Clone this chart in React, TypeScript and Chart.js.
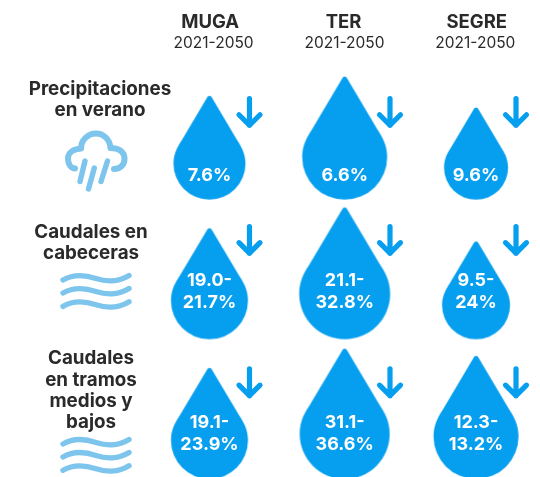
import React, { useEffect, useRef } from "react";
import { Chart, registerables } from "chart.js";

Chart.register(...registerables);

// ---------- data ----------
const rivers = ["MUGA", "TER", "SEGRE"];
const periods = ["2021-2050", "2021-2050", "2021-2050"];
const rows = ["Precipitaciones en verano", "Caudales en cabeceras", "Caudales en tramos medios y bajos"];
const rowLines = [
  ["Precipitaciones", "en verano"],
  ["Caudales en", "cabeceras"],
  ["Caudales", "en tramos", "medios y", "bajos"],
];
const mugaSizes = [36, 38.5, 38.5];
const terSizes = [42.5, 45.5, 45];
const segreSizes = [32, 34, 42.5];
const mugaLabels = [["7.6%"], ["19.0-", "21.7%"], ["19.1-", "23.9%"]];
const terLabels = [["6.6%"], ["21.1-", "32.8%"], ["31.1-", "36.6%"]];
const segreLabels = [["9.6%"], ["9.5-", "24%"], ["12.3-", "13.2%"]];

// ---------- styling / layout ----------
const DROP = "#069EEE";
const LIGHT = "#7DC5EC";
const INK = "#2A2A2A";
const FAMILY = "Inter, 'Liberation Sans', sans-serif";
const BAND_HALF = 419 / 6;
const COLUMN_NUDGE = [-0.75, 1.2, -0.75];
const ARROW_DX = [40, 45.3, 40];
const ARROW_DY = [-17.8, -29.5, -26.7];
const VALUE_DY = [[45.7], [11.5, 32.8], [13.5, 35.1]];
const ROW_TEXT_X = [100, 91, 91];
const ROW_TEXT_DY = [
  [-40.8, -19.1],
  [-36.8, -16.2],
  [-51.2, -29.2, -7.5, 12.8],
];
const WAVE_DY = [0, 21.5, 45.8];
const PERIOD_AXIS_SPAN = { left: 148.2, right: 540.8 };

function makeDrop(r: number, nudge: number) {
  const c = document.createElement("canvas");
  c.width = 2 * Math.ceil(r) + 12;
  c.height = 400;
  const g = c.getContext("2d")!;
  const cx = c.width / 2 + nudge;
  const b = c.height / 2 + BAND_HALF;
  g.fillStyle = DROP;
  g.beginPath();
  g.moveTo(cx - 0.772 * r, b - 1.65 * r);
  g.arcTo(cx, b - 2.95 * r, cx + 0.772 * r, b - 1.65 * r, 2.5);
  g.lineTo(cx + 0.772 * r, b - 1.65 * r);
  g.bezierCurveTo(cx + 0.87 * r, b - 1.5 * r, cx + r, b - 1.3 * r, cx + r, b - r);
  g.arc(cx, b - r, r, 0, Math.PI);
  g.bezierCurveTo(cx - r, b - 1.3 * r, cx - 0.87 * r, b - 1.5 * r, cx - 0.772 * r, b - 1.65 * r);
  g.closePath();
  g.fill();
  return c;
}

function drawArrow(g: CanvasRenderingContext2D, x: number, y: number) {
  g.save();
  g.strokeStyle = DROP;
  g.lineWidth = 5.2;
  g.lineCap = "round";
  g.lineJoin = "round";
  g.beginPath();
  g.moveTo(x, y - 13.5);
  g.lineTo(x, y + 13.2);
  g.moveTo(x - 10.5, y + 2.7);
  g.lineTo(x, y + 13.2);
  g.lineTo(x + 10.5, y + 2.7);
  g.stroke();
  g.restore();
}

function drawCloud(g: CanvasRenderingContext2D, dy: number) {
  g.save();
  g.translate(0, dy);
  g.strokeStyle = LIGHT;
  g.lineCap = "round";
  g.lineJoin = "round";
  g.lineWidth = 6;
  g.beginPath();
  g.moveTo(75, 168.5);
  g.bezierCurveTo(70, 168, 68, 163, 68, 158.5);
  g.bezierCurveTo(68, 153, 73, 149, 81, 148.5);
  g.bezierCurveTo(81, 140, 88, 133.5, 96, 133.5);
  g.bezierCurveTo(104, 133.5, 110, 140, 110.5, 148);
  g.bezierCurveTo(118, 148, 124.5, 151, 124.5, 159);
  g.bezierCurveTo(124.5, 165, 120, 169, 114, 169);
  g.stroke();
  g.lineWidth = 5.4;
  g.beginPath();
  g.moveTo(85, 161);
  g.lineTo(80, 181.5);
  g.moveTo(94.3, 168);
  g.lineTo(88.5, 189);
  g.moveTo(107.5, 161);
  g.lineTo(101, 181.5);
  g.stroke();
  g.restore();
}

function drawWaves(g: CanvasRenderingContext2D, yMid: number) {
  g.save();
  g.strokeStyle = LIGHT;
  g.lineCap = "round";
  g.lineWidth = 5.4;
  const x0 = 63;
  [-13, 0, 13.3].forEach((off) => {
    const y = yMid + off;
    g.beginPath();
    g.moveTo(x0, y + 2);
    g.bezierCurveTo(x0 + 12, y - 5, x0 + 24, y - 2.5, x0 + 33, y + 0.5);
    g.bezierCurveTo(x0 + 42, y + 3.5, x0 + 55, y + 4.5, x0 + 66, y - 2.5);
    g.stroke();
  });
  g.restore();
}

const annotations = {
  id: "annotations",
  afterLayout(chart: any) {
    const s = chart.scales.xPeriod;
    s.left = PERIOD_AXIS_SPAN.left;
    s.right = PERIOD_AXIS_SPAN.right;
    s.width = s.right - s.left;
    s.configure();
  },
  afterDatasetsDraw(chart: any) {
    const g: CanvasRenderingContext2D = chart.ctx;
    const { x: xs, y: ys } = chart.scales;
    g.save();
    const all = [mugaLabels, terLabels, segreLabels];
    g.textAlign = "center";
    g.textBaseline = "middle";
    rows.forEach((_, ri) => {
      const yc = ys.getPixelForValue(ri);
      rivers.forEach((_, ci) => {
        const xc = xs.getPixelForValue(ci) + COLUMN_NUDGE[ci];
        g.fillStyle = "#FFFFFF";
        g.font = `700 18px ${FAMILY}`;
        all[ci][ri].forEach((t, li) => g.fillText(t, xc, yc + VALUE_DY[ri][li]));
        drawArrow(g, xc + ARROW_DX[ci], yc + ARROW_DY[ri]);
      });
      g.fillStyle = INK;
      g.font = `700 18.8px ${FAMILY}`;
      rowLines[ri].forEach((t, li) => g.fillText(t, ROW_TEXT_X[ri], yc + ROW_TEXT_DY[ri][li]));
      if (ri === 0) drawCloud(g, yc - 129.83);
      else drawWaves(g, yc + WAVE_DY[ri]);
    });
    g.restore();
  },
};

function series(label: string, sizes: number[], col: number) {
  return {
    label,
    data: sizes.map((r, i) => ({ x: rivers[col], y: rows[i], r })),
    backgroundColor: DROP,
    borderWidth: 0,
    clip: false,
    pointStyle: sizes.map((r) => makeDrop(r, COLUMN_NUDGE[col])),
  };
}

export default function App() {
  const ref = useRef<HTMLCanvasElement>(null);
  useEffect(() => {
    const chart = new Chart(ref.current!, {
      type: "bubble",
      data: {
        datasets: [
          series(rivers[0], mugaSizes, 0),
          series(rivers[1], terSizes, 1),
          series(rivers[2], segreSizes, 2),
        ],
      } as any,
      plugins: [annotations],
      options: {
        animation: false,
        responsive: false,
        events: [],
        layout: { autoPadding: false, padding: { left: 143.6, right: 0.6, top: 11, bottom: 0 } },
        plugins: { legend: { display: false }, tooltip: { enabled: false }, title: { display: false } },
        scales: {
          x: {
            type: "category",
            labels: rivers,
            position: "top",
            offset: true,
            weight: 1,
            grid: { display: false, drawTicks: false },
            border: { display: false },
            ticks: { color: INK, padding: 0, maxRotation: 0, autoSkip: false, font: { family: FAMILY, weight: 700, size: 18.5 } },
          },
          xPeriod: {
            type: "category",
            axis: "x",
            labels: periods,
            position: "top",
            offset: true,
            weight: 0,
            afterFit(scale: any) {
              scale.height = 26.8;
            },
            grid: { display: false, drawTicks: false },
            border: { display: false },
            ticks: { color: INK, padding: 7.6, maxRotation: 0, autoSkip: false, font: { family: FAMILY, weight: 400, size: 15.5 } },
          },
          y: {
            type: "category",
            labels: rows,
            offset: true,
            display: false,
          },
        },
      } as any,
    });
    return () => chart.destroy();
  }, []);
  return (
    <div style={{ position: "absolute", left: 0, top: 0, width: 540, height: 477, overflow: "hidden", background: "#fff" }}>
      <canvas ref={ref} width={544} height={479} />
    </div>
  );
}
